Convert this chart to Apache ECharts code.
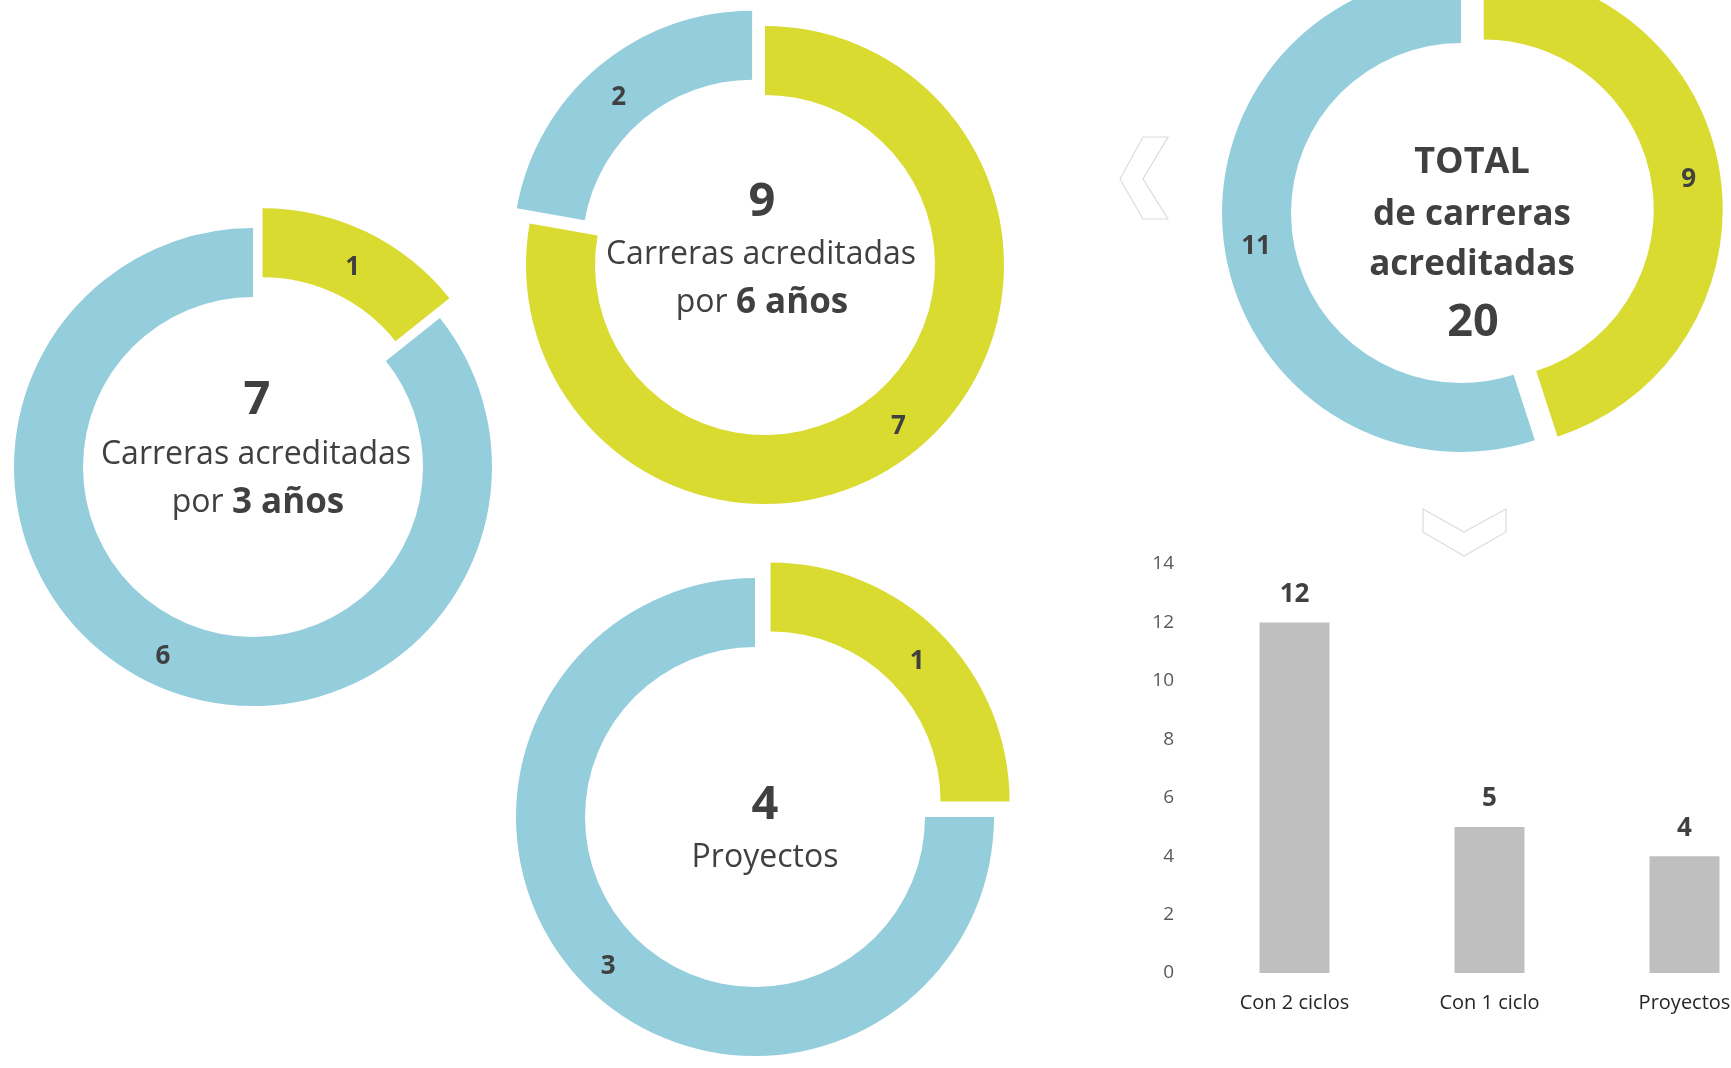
<!DOCTYPE html>
<html>
<head>
<meta charset="utf-8">
<script src="https://cdn.jsdelivr.net/npm/echarts@6/dist/echarts.min.js"></script>
<style>
html,body{margin:0;padding:0;background:#fff;}
#chart{width:1731px;height:1068px;}
</style>
</head>
<body>
<div id="chart"></div>
<script>
// ---- data ----
const donutKeys = ['tres', 'seis', 'proyectos', 'total'];
const yellowValues = [1, 7, 1, 9];
const blueValues = [6, 2, 3, 11];
const explodedSlice = ['yellow', 'blue', 'yellow', 'yellow'];
const barCategories = ['Con 2 ciclos', 'Con 1 ciclo', 'Proyectos'];
const barValues = [12, 5, 4];
const yAxisMin = 0, yAxisMax = 14, yAxisInterval = 2;

// ---- style / layout ----
const YELLOW = '#DADB31';
const BLUE = '#94CDDC';
const TXT = '#404040';
const FONT = '"Open Sans", "Liberation Sans", sans-serif';
const donutLayout = {
  tres:      { center: [253, 467], offset: 22, dySel: 7, dy: 3 },
  seis:      { center: [765, 265], offset: 20, dySel: 7, dy: 3 },
  proyectos: { center: [755, 817], offset: 22, dySel: 7, dy: 3 },
  total:     { center: [1461, 213], offset: 23, dySel: 3, dy: 1 }
};
const R_OUT = 239, R_IN = 170;

const totals = yellowValues.map((v, i) => v + blueValues[i]);

function donutSeries(i) {
  const key = donutKeys[i];
  const lay = donutLayout[key];
  const names = ['yellow', 'blue'];
  const selIdx = names.indexOf(explodedSlice[i]);
  const mk = (name, value, color) => ({
    name, value,
    selected: explodedSlice[i] === name,
    itemStyle: { color },
    select: { itemStyle: { color, borderWidth: 0 } }
  });
  return {
    type: 'pie',
    name: key,
    center: lay.center,
    radius: [R_IN, R_OUT],
    startAngle: 90,
    clockwise: true,
    selectedMode: 'multiple',
    selectedOffset: lay.offset,
    avoidLabelOverlap: false,
    silent: true,
    label: {
      show: true,
      position: 'inside',
      formatter: '{c}',
      color: TXT,
      fontFamily: FONT,
      fontWeight: 'bold',
      fontSize: 26
    },
    labelLayout: function (p) {
      return { dy: p.dataIndex === selIdx ? lay.dySel : lay.dy };
    },
    labelLine: { show: false },
    emphasis: { disabled: true },
    data: [mk('yellow', yellowValues[i], YELLOW), mk('blue', blueValues[i], BLUE)]
  };
}

function txt(x, y, text, size, bold, rich) {
  const st = {
    text: text,
    fill: TXT,
    font: (bold ? 'bold ' : '') + size + 'px ' + FONT,
    align: 'center',
    verticalAlign: 'middle'
  };
  if (rich) st.rich = rich;
  return { type: 'text', x: x, y: y, style: st, silent: true };
}
const richPor = {
  r: { fontFamily: FONT, fontSize: 32, fill: TXT, color: TXT },
  b: { fontFamily: FONT, fontSize: 35, fontWeight: 'bold', fill: TXT, color: TXT }
};

const graphics = [
  // chevrons
  { type: 'polygon', silent: true,
    shape: { points: [[1143,137],[1168,137],[1143,179],[1168,219],[1143,219],[1120,179]] },
    style: { fill: '#fff', stroke: '#DCDCDC', lineWidth: 1.2 } },
  { type: 'polygon', silent: true,
    shape: { points: [[1423,509],[1464,532],[1506,509],[1506,532],[1464,556],[1423,532]] },
    style: { fill: '#fff', stroke: '#DCDCDC', lineWidth: 1.2 } },
  // 3 años
  txt(257, 401, String(totals[0]), 47, true),
  txt(256, 455, 'Carreras acreditadas', 32, false),
  txt(258, 503, '{r|por }{b|3 años}', 32, false, richPor),
  // 6 años
  txt(762, 203, String(totals[1]), 47, true),
  txt(761, 255, 'Carreras acreditadas', 32, false),
  txt(762, 303, '{r|por }{b|6 años}', 32, false, richPor),
  // proyectos
  txt(765, 806, String(totals[2]), 47, true),
  txt(765, 858, 'Proyectos', 32, false),
  // total
  txt(1472, 163, 'TOTAL', 36, true),
  txt(1472, 215, 'de carreras', 35, true),
  txt(1472, 265, 'acreditadas', 35, true),
  txt(1473, 323, String(totals[3]), 45, true)
];

const option = {
  animation: false,
  backgroundColor: '#fff',
  grid: { left: 1197, top: 564, width: 585, height: 409, containLabel: false, outerBoundsMode: 'none' },
  xAxis: {
    type: 'category',
    data: barCategories,
    axisLine: { show: false },
    axisTick: { show: false },
    axisLabel: { color: '#262626', fontFamily: FONT, fontSize: 20, margin: 20 }
  },
  yAxis: {
    type: 'value',
    min: yAxisMin, max: yAxisMax, interval: yAxisInterval,
    axisLine: { show: false },
    axisTick: { show: false },
    splitLine: { show: false },
    axisLabel: { color: '#595959', fontFamily: FONT, fontSize: 19, margin: 23 }
  },
  series: [
    donutSeries(0), donutSeries(1), donutSeries(2), donutSeries(3),
    {
      type: 'bar',
      data: barValues,
      barWidth: 70,
      silent: true,
      itemStyle: { color: '#BFBFBF' },
      label: {
        show: true, position: 'top', distance: 15,
        color: TXT, fontFamily: FONT, fontWeight: 'bold', fontSize: 26
      }
    }
  ],
  graphic: graphics
};

const chart = echarts.init(document.getElementById('chart'), null, { renderer: 'canvas' });
chart.setOption(option);
</script>
</body>
</html>
